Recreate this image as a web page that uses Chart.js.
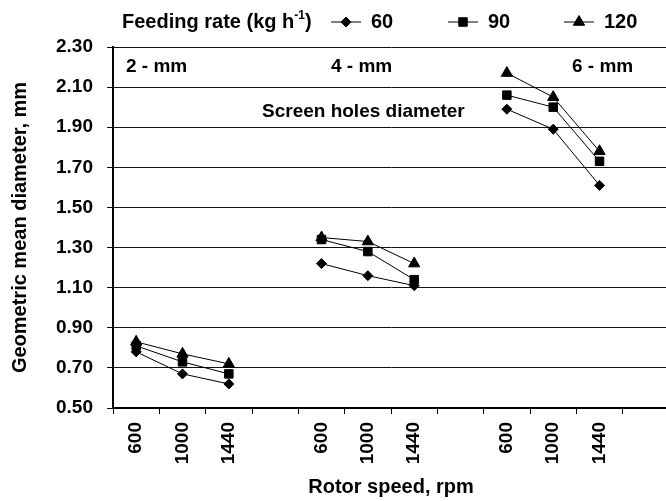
<!DOCTYPE html>
<html>
<head>
<meta charset="utf-8">
<script src="https://cdn.jsdelivr.net/npm/chart.js@4.4.1/dist/chart.umd.min.js"></script>
<style>
  html, body { margin:0; padding:0; background:#fff; overflow:hidden; }
  #wrap { position:relative; width:677px; height:501px; }
</style>
</head>
<body>
<div id="wrap"><canvas id="chart"></canvas></div>
<script>
// rotor speed categories, three screen groups with a gap after each
const categories = ['600','1000','1440','','600','1000','1440','','600','1000','1440',''];
// geometric mean diameter (mm) per feeding rate
const rate60  = [0.78, 0.67, 0.62, null, 1.22, 1.16, 1.11, null, 1.99, 1.89, 1.61, null];
const rate90  = [0.81, 0.73, 0.67, null, 1.34, 1.28, 1.14, null, 2.06, 2.00, 1.73, null];
const rate120 = [0.83, 0.77, 0.72, null, 1.35, 1.33, 1.22, null, 2.17, 2.05, 1.78, null];
const seriesNames = ['60', '90', '120'];
const groupLabels = ['2 - mm', '4 - mm', '6 - mm'];
const yTicks = [0.50, 0.70, 0.90, 1.10, 1.30, 1.50, 1.70, 1.90, 2.10, 2.30];

const FONT = 'Liberation Sans, Arial, sans-serif';
const styles = [
  { pointStyle:'rectRot', radius:5 },
  { pointStyle:'rect', radius:6 },
  { pointStyle:'triangle', radius:6.5 }
];

// legend with line + marker, and the in-plot notes
const notes = {
  id: 'notes',
  afterDraw(chart) {
    const ctx = chart.ctx;
    ctx.save();
    ctx.fillStyle = '#000';
    ctx.textBaseline = 'middle';
    ctx.font = 'bold 20px ' + FONT;
    // legend title with superscript
    let x = 122, y = 22;
    ctx.fillText('Feeding rate (kg h', x, y);
    x += ctx.measureText('Feeding rate (kg h').width;
    ctx.font = 'bold 12px ' + FONT;
    ctx.fillText('-1', x, y - 6);
    x += ctx.measureText('-1').width;
    ctx.font = 'bold 20px ' + FONT;
    ctx.fillText(')', x, y);
    const starts = [331, 448, 564];
    chart.data.datasets.forEach((ds, i) => {
      const x0 = starts[i];
      ctx.strokeStyle = '#000';
      ctx.lineWidth = 1;
      ctx.beginPath(); ctx.moveTo(x0, y); ctx.lineTo(x0 + 30, y); ctx.stroke();
      Chart.helpers.drawPoint(ctx, { pointStyle: ds.pointStyle, radius: ds.pointRadius, borderWidth: 1 }, x0 + 15, y);
      ctx.fillStyle = '#000';
      ctx.fillText(ds.label, x0 + 40, y);
    });
    // group notes
    ctx.font = 'bold 19px ' + FONT;
    const gx = [126, 331, 572];
    groupLabels.forEach((t, i) => ctx.fillText(t, gx[i], 67));
    ctx.fillText('Screen holes diameter', 262, 112);
    ctx.restore();
  }
};

new Chart(document.getElementById('chart'), {
  type: 'line',
  data: {
    labels: categories,
    datasets: [rate60, rate90, rate120].map((d, i) => ({
      label: seriesNames[i],
      data: d,
      borderColor: '#000',
      backgroundColor: '#000',
      borderWidth: 1,
      pointStyle: styles[i].pointStyle,
      pointRadius: styles[i].radius,
      pointBorderWidth: 1,
      spanGaps: false,
      tension: 0
    }))
  },
  options: {
    responsive: true,
    maintainAspectRatio: false,
    animation: false,
    layout: { padding: { top: 47, right: 0, left: 0, bottom: 0 } },
    plugins: { legend: { display: false }, tooltip: { enabled: false } },
    scales: {
      x: {
        offset: true,
        afterFit: s => { s.height = 93; },
        grid: { offset: true, drawOnChartArea: false, drawTicks: true, tickLength: 6, color: '#000' },
        border: { display: true, color: '#000', width: 2 },
        ticks: { maxRotation: 90, minRotation: 90, autoSkip: false, padding: 8, color: '#000',
                 font: { family: FONT, size: 19, weight: 'bold' } },
        title: { display: true, text: 'Rotor speed, rpm', color: '#000', padding: { top: 0, bottom: 2 },
                 font: { family: FONT, size: 20, weight: 'bold' } }
      },
      y: {
        min: 0.5, max: 2.3,
        afterFit: s => { s.width = 113; },
        afterBuildTicks: s => { s.ticks = yTicks.map(v => ({ value: v })); },
        grid: { color: '#111', lineWidth: 1, tickLength: 6 },
        border: { display: true, color: '#000', width: 2 },
        ticks: { padding: 14, color: '#000', callback: v => v.toFixed(2),
                 font: { family: FONT, size: 19, weight: 'bold' } },
        title: { display: true, text: 'Geometric mean diameter, mm', color: '#000', padding: { top: 8, bottom: 0 },
                 font: { family: FONT, size: 20, weight: 'bold' } }
      }
    }
  },
  plugins: [notes]
});
</script>
</body>
</html>
